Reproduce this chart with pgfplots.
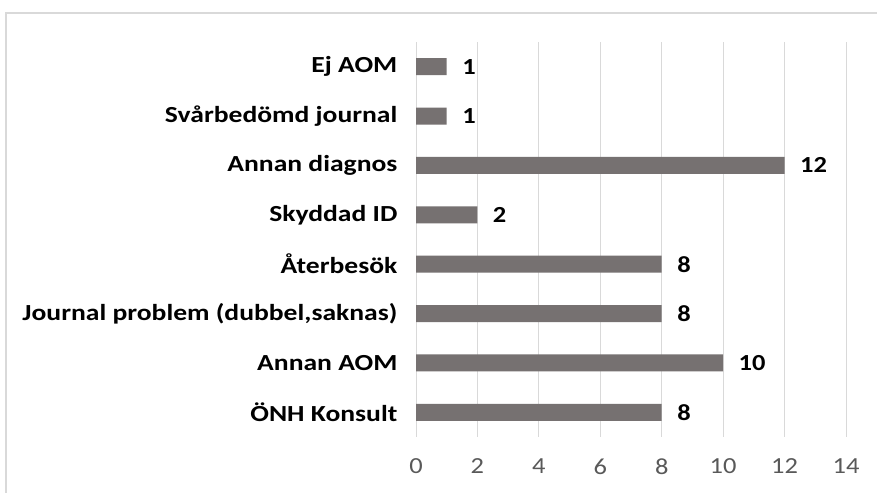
\documentclass[border=0pt]{standalone}
\usepackage{fontspec}
\setmainfont{Carlito}
\usepackage{pgfplots}
\pgfplotsset{compat=1.18}
\definecolor{barc}{HTML}{767171}
\definecolor{gridc}{HTML}{D9D9D9}
\definecolor{tickc}{HTML}{595959}
\begin{document}
\begin{tikzpicture}[x=1pt,y=1pt]
\clip (0,0) rectangle (877,492);
\fill[white] (0,0) rectangle (877,492);
\draw[color=gridc, line width=1.5pt] (6,479) rectangle (950,-30);
\begin{axis}[
  at={(416pt,55pt)}, anchor=south west,
  scale only axis, width=430pt, height=395pt,
  xbar, bar width=17pt,
  xmin=0, xmax=14, ymin=-0.5, ymax=7.5,
  xtick={0,2,...,14},
  ytick={0,...,7},
  yticklabels={{ÖNH Konsult},{Annan AOM},{Journal problem (dubbel,saknas)},{Återbesök},{Skyddad ID},{Annan diagnos},{Svårbedömd journal},{Ej AOM}},
  axis line style={draw=none},
  major tick length=0pt,
  xmajorgrids, grid style={gridc, line width=1pt},
  /pgf/number format/assume math mode=true,
  xticklabel style={text=tickc, font=\fontsize{23}{27}\selectfont, xscale=1.15, yshift=-18pt},
  yticklabel style={font=\bfseries\fontsize{23}{27}\selectfont, xscale=1.2, xshift=-12pt},
  nodes near coords,
  every node near coord/.append style={font=\bfseries\fontsize{23}{27}\selectfont, xscale=1.15, anchor=west, xshift=10pt, text=black},
]
\addplot[fill=barc, draw=none] coordinates {(8,0) (10,1) (8,2) (8,3) (2,4) (12,5) (1,6) (1,7)};
\end{axis}
\end{tikzpicture}
\end{document}
